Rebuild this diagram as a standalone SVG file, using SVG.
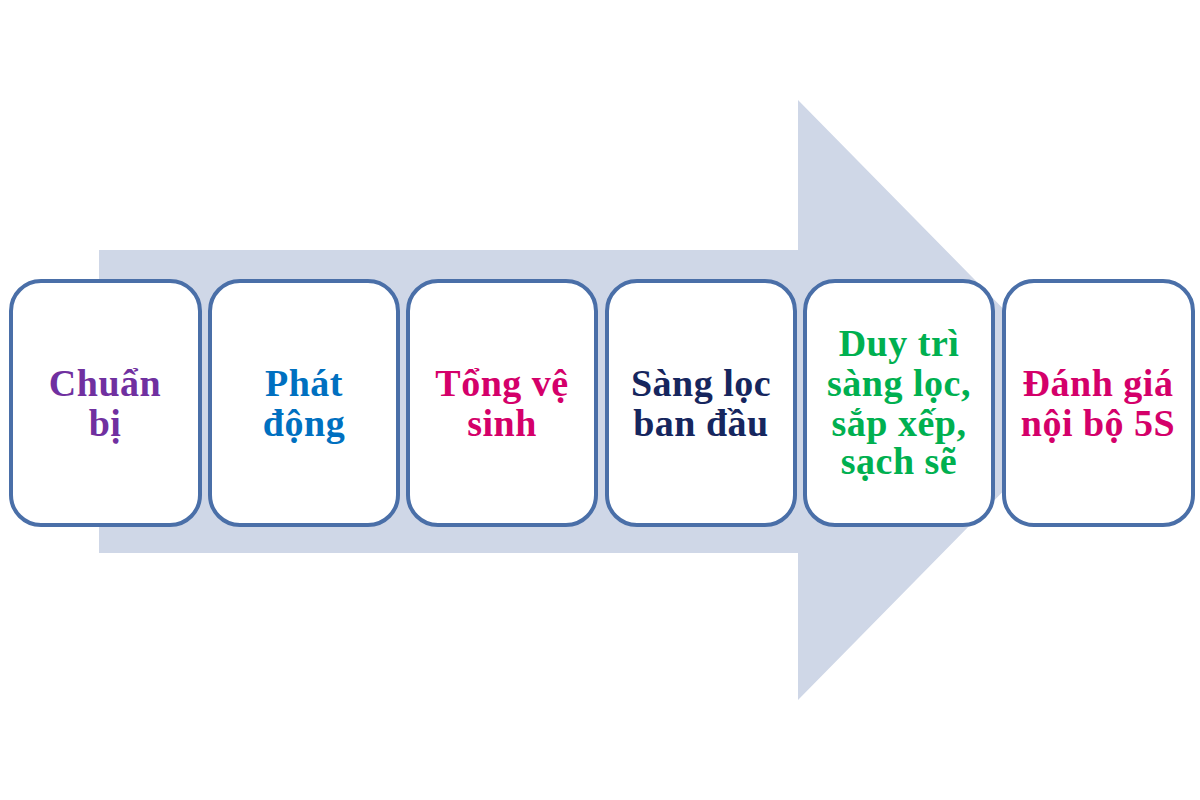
<svg xmlns="http://www.w3.org/2000/svg" width="1200" height="800" viewBox="0 0 1200 800">
<style>
.box{fill:#ffffff;stroke:#4a6fa8;stroke-width:4}
.t{font-family:"Liberation Serif","Times New Roman",serif;font-weight:bold;font-size:38px;letter-spacing:0.5px;text-anchor:middle}
</style>
<rect width="1200" height="800" fill="#ffffff"/>
<g id="connectors">
<path d="M99,250 L798,250 L798,100 L1093,400 L798,700 L798,553 L99,553 Z" fill="#cfd7e7"/>
</g>
<g id="n1"><rect class="box" x="11" y="281" width="189" height="244" rx="30"/>
<text class="t" x="105" y="396" fill="#7030a0">Chuẩn</text><text class="t" x="105" y="436" fill="#7030a0">bị</text></g>
<g id="n2"><rect class="box" x="210" y="281" width="188" height="244" rx="30"/>
<text class="t" x="304" y="396" fill="#0070c0">Phát</text><text class="t" x="304" y="436" fill="#0070c0">động</text></g>
<g id="n3"><rect class="box" x="408" y="281" width="188" height="244" rx="30"/>
<text class="t" x="502" y="396" fill="#d4006a">Tổng vệ</text><text class="t" x="502" y="436" fill="#d4006a">sinh</text></g>
<g id="n4"><rect class="box" x="607" y="281" width="188" height="244" rx="30"/>
<text class="t" x="701" y="396" fill="#16265e">Sàng lọc</text><text class="t" x="701" y="436" fill="#16265e">ban đầu</text></g>
<g id="n5"><rect class="box" x="805" y="281" width="188" height="244" rx="30"/>
<text class="t" x="899" y="356" fill="#00b050">Duy trì</text><text class="t" x="899" y="396" fill="#00b050">sàng lọc,</text><text class="t" x="899" y="436" fill="#00b050">sắp xếp,</text><text class="t" x="899" y="474" fill="#00b050">sạch sẽ</text></g>
<g id="n6"><rect class="box" x="1004" y="281" width="189" height="244" rx="30"/>
<text class="t" x="1098" y="396" fill="#d4006a">Đánh giá</text><text class="t" x="1098" y="436" fill="#d4006a">nội bộ 5S</text></g>
</svg>
